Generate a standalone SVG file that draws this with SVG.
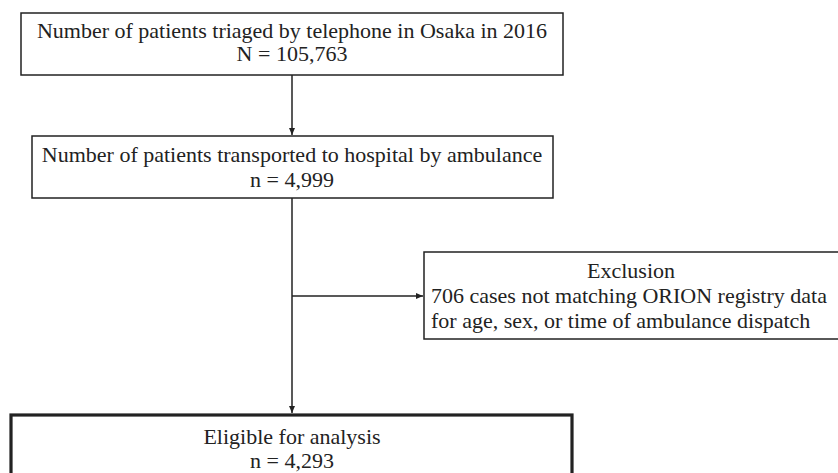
<svg xmlns="http://www.w3.org/2000/svg" width="838" height="473" viewBox="0 0 838 473">
<style>
.box{fill:#fff;stroke:#222;stroke-width:1.5}
.thick{fill:#fff;stroke:#222;stroke-width:3.2}
.t{font-family:"Liberation Serif","Times New Roman",serif;font-size:22px;fill:#222}
.c{text-anchor:middle}
.ln{stroke:#222;stroke-width:1.5;fill:none}
</style>
<defs>
<marker id="ah" markerWidth="8" markerHeight="8" refX="7" refY="4" orient="auto" markerUnits="userSpaceOnUse">
<path d="M0,1 L7,4 L0,7 Z" fill="#222"/>
</marker>
</defs>
<rect width="838" height="473" fill="#fff"/>
<g id="connectors">
<line class="ln" x1="292" y1="75" x2="292" y2="135" marker-end="url(#ah)"/>
<line class="ln" x1="292" y1="198" x2="292" y2="413" marker-end="url(#ah)"/>
<line class="ln" x1="292" y1="296" x2="423" y2="296" marker-end="url(#ah)"/>
</g>
<g id="node-triaged">
<rect class="box" x="21" y="13" width="542" height="62"/>
<text class="t c" x="292" y="38">Number of patients triaged by telephone in Osaka in 2016</text>
<text class="t c" x="292" y="61">N = 105,763</text>
</g>
<g id="node-transported">
<rect class="box" x="32" y="136" width="521" height="62"/>
<text class="t c" x="292" y="162">Number of patients transported to hospital by ambulance</text>
<text class="t c" x="292" y="187">n = 4,999</text>
</g>
<g id="node-exclusion">
<rect class="box" x="424" y="252" width="420" height="87"/>
<text class="t c" x="631" y="278">Exclusion</text>
<text class="t" x="431" y="303">706 cases not matching ORION registry data</text>
<text class="t" x="431" y="328">for age, sex, or time of ambulance dispatch</text>
</g>
<g id="node-eligible">
<rect class="thick" x="11" y="415" width="561" height="70"/>
<text class="t c" x="292" y="444">Eligible for analysis</text>
<text class="t c" x="292" y="468">n = 4,293</text>
</g>
</svg>
